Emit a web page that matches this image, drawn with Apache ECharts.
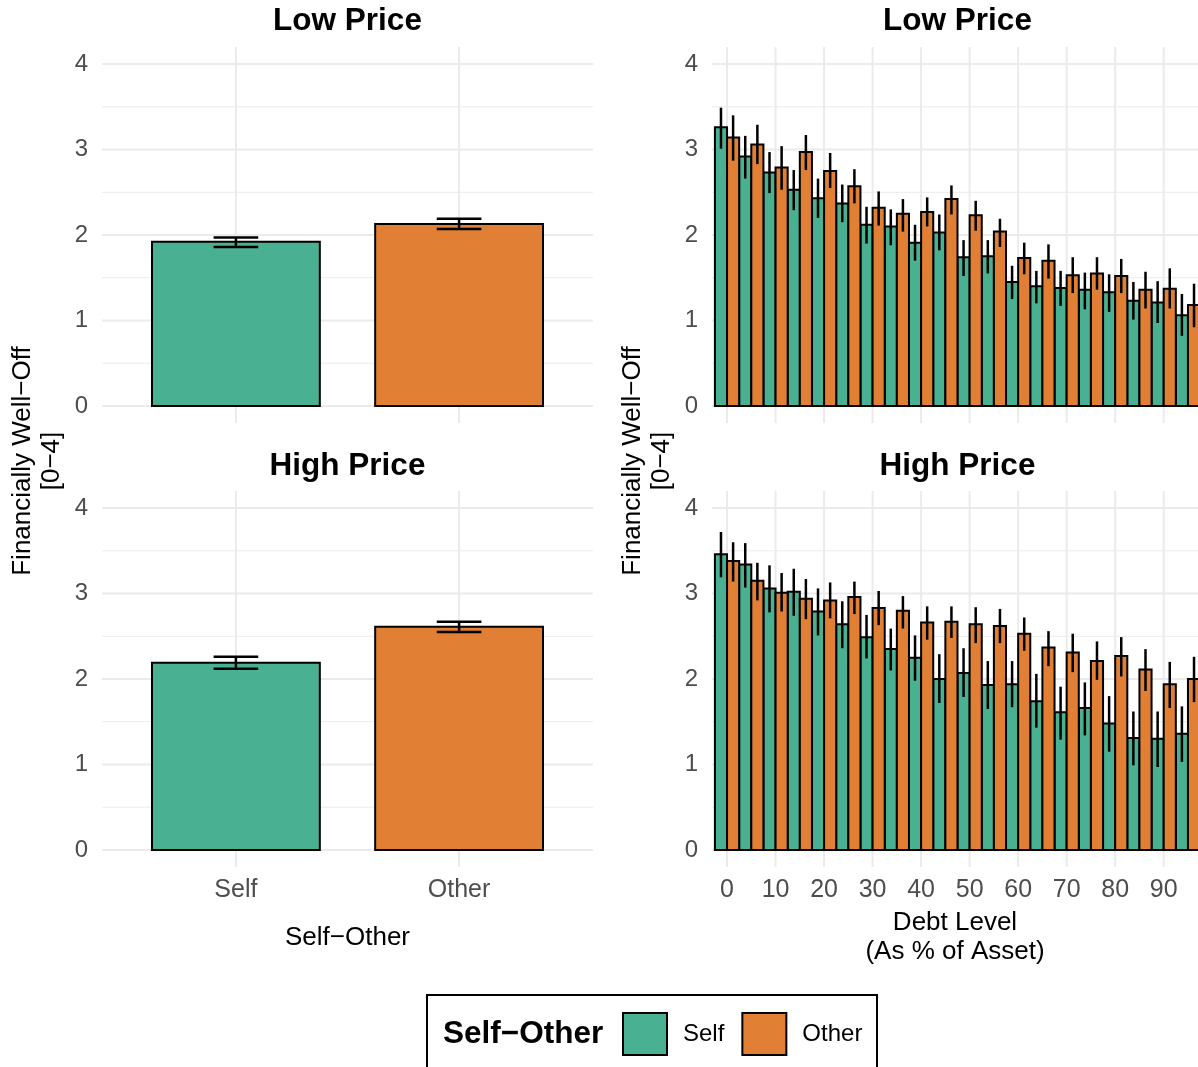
<!DOCTYPE html>
<html>
<head>
<meta charset="utf-8">
<script src="https://cdn.jsdelivr.net/npm/echarts@6/dist/echarts.min.js"></script>
<style>
  html, body { margin: 0; padding: 0; background: #ffffff; }
  #chart { width: 1198px; height: 1067px; }
</style>
</head>
<body>
<div id="chart"></div>
<script>
// ---------------- DATA ----------------
const leftCategories = ['Self', 'Other'];
const leftCategoryPos = [1, 2];

const lowPriceMean = [1.92, 2.13];
const lowPriceLo   = [1.86, 2.07];
const lowPriceHi   = [1.97, 2.19];

const highPriceMean = [2.19, 2.61];
const highPriceLo   = [2.12, 2.55];
const highPriceHi   = [2.26, 2.67];

const debtLevels = [0, 5, 10, 15, 20, 25, 30, 35, 40, 45, 50, 55, 60, 65, 70, 75, 80, 85, 90, 95];

const lowSelfMean = [3.26, 2.92, 2.73, 2.53, 2.43, 2.37, 2.12, 2.10, 1.91, 2.03, 1.74, 1.75, 1.45, 1.40, 1.38, 1.36, 1.33, 1.23, 1.21, 1.06];
const lowSelfLo   = [3.01, 2.66, 2.49, 2.29, 2.20, 2.15, 1.90, 1.88, 1.70, 1.82, 1.52, 1.55, 1.25, 1.20, 1.17, 1.13, 1.10, 1.01, 0.97, 0.82];
const lowSelfHi   = [3.49, 3.16, 2.97, 2.76, 2.66, 2.59, 2.33, 2.30, 2.12, 2.24, 1.94, 1.94, 1.64, 1.58, 1.58, 1.56, 1.54, 1.45, 1.46, 1.31];

const lowOtherMean = [3.14, 3.06, 2.79, 2.97, 2.75, 2.57, 2.32, 2.25, 2.27, 2.42, 2.23, 2.04, 1.73, 1.70, 1.53, 1.55, 1.52, 1.36, 1.37, 1.18];
const lowOtherLo   = [2.87, 2.83, 2.53, 2.76, 2.55, 2.37, 2.11, 2.04, 2.10, 2.24, 2.05, 1.86, 1.54, 1.49, 1.32, 1.36, 1.32, 1.14, 1.14, 0.92];
const lowOtherHi   = [3.40, 3.29, 3.04, 3.17, 2.96, 2.77, 2.51, 2.42, 2.44, 2.58, 2.40, 2.19, 1.91, 1.89, 1.74, 1.74, 1.72, 1.57, 1.61, 1.43];

const highSelfMean = [3.46, 3.34, 3.06, 3.02, 2.79, 2.64, 2.49, 2.35, 2.25, 2.00, 2.07, 1.93, 1.94, 1.74, 1.61, 1.66, 1.48, 1.31, 1.30, 1.36];
const highSelfLo   = [3.19, 3.07, 2.78, 2.74, 2.51, 2.36, 2.24, 2.10, 1.98, 1.72, 1.79, 1.65, 1.67, 1.43, 1.29, 1.34, 1.15, 0.99, 0.97, 1.03];
const highSelfHi   = [3.72, 3.59, 3.33, 3.29, 3.06, 2.91, 2.75, 2.59, 2.51, 2.29, 2.36, 2.21, 2.21, 2.06, 1.91, 1.96, 1.80, 1.62, 1.62, 1.68];

const highOtherMean = [3.38, 3.15, 3.01, 2.94, 2.92, 2.96, 2.83, 2.80, 2.66, 2.67, 2.64, 2.62, 2.53, 2.37, 2.31, 2.21, 2.27, 2.11, 1.94, 2.00];
const highOtherLo   = [3.14, 2.92, 2.79, 2.70, 2.71, 2.76, 2.63, 2.59, 2.46, 2.48, 2.42, 2.42, 2.33, 2.15, 2.08, 1.99, 2.03, 1.86, 1.66, 1.73];
const highOtherHi   = [3.60, 3.36, 3.24, 3.17, 3.13, 3.14, 3.03, 2.97, 2.85, 2.85, 2.84, 2.82, 2.72, 2.56, 2.53, 2.44, 2.49, 2.35, 2.20, 2.26];

const yTicks = [0, 1, 2, 3, 4];
const yMinorTicks = [0.5, 1.5, 2.5, 3.5];
const debtTicks = [0, 10, 20, 30, 40, 50, 60, 70, 80, 90];

// ---------------- STYLE ----------------
const FONT = '"Liberation Sans", Arial, Helvetica, sans-serif';
const SELF_COLOR = '#49B192';
const OTHER_COLOR = '#E17F35';
const GRID_COLOR = '#EBEBEB';
const TICK_COLOR = '#4D4D4D';

const Y_MIN = -0.2, Y_MAX = 4.2;
const LX_MIN = 0.4, LX_MAX = 2.6;
const RX_MIN = -3.1, RX_MAX = 97.07;

const grids = [
  { left: 102, top: 47, width: 491, height: 376 },   // 0 left top
  { left: 712, top: 47, width: 486, height: 376 },   // 1 right top
  { left: 102, top: 491, width: 491, height: 376 },  // 2 left bottom
  { left: 712, top: 491, width: 486, height: 376 }   // 3 right bottom
];

function yAxisDef(gi) {
  return {
    type: 'value', gridIndex: gi, min: Y_MIN, max: Y_MAX,
    axisLine: { show: false }, axisTick: { show: false }, splitLine: { show: false },
    axisLabel: {
      customValues: yTicks, fontSize: 24, color: TICK_COLOR, fontFamily: FONT, margin: 14
    }
  };
}

function xAxisDef(gi, isLeft, showLabels) {
  const ax = {
    type: 'value', gridIndex: gi,
    min: isLeft ? LX_MIN : RX_MIN, max: isLeft ? LX_MAX : RX_MAX,
    axisLine: { show: false }, axisTick: { show: false }, splitLine: { show: false },
    axisLabel: { show: false }
  };
  if (showLabels) {
    ax.axisLabel = {
      show: true,
      customValues: isLeft ? leftCategoryPos : debtTicks,
      formatter: isLeft ? (v) => leftCategories[Math.round(v) - 1] : (v) => String(v),
      fontSize: 25, color: TICK_COLOR, fontFamily: FONT, margin: 11
    };
  }
  return ax;
}

// gridline series
function gridLineSeries(gi, isLeft) {
  const xmin = isLeft ? LX_MIN : RX_MIN, xmax = isLeft ? LX_MAX : RX_MAX;
  const vTicks = isLeft ? leftCategoryPos : debtTicks;
  const items = [];
  yMinorTicks.forEach(v => items.push(['h', v, 1]));
  yTicks.forEach(v => items.push(['h', v, 2]));
  vTicks.forEach(v => items.push(['v', v, 2]));
  return {
    type: 'custom', xAxisIndex: gi, yAxisIndex: gi, silent: true, z: 0,
    data: items,
    renderItem: function (params, api) {
      const kind = items[params.dataIndex][0];
      const val = items[params.dataIndex][1];
      const lw = items[params.dataIndex][2];
      let a, b;
      if (kind === 'h') { a = api.coord([xmin, val]); b = api.coord([xmax, val]); }
      else { a = api.coord([val, Y_MIN]); b = api.coord([val, Y_MAX]); }
      return {
        type: 'line',
        shape: { x1: a[0], y1: a[1], x2: b[0], y2: b[1] },
        style: { stroke: GRID_COLOR, lineWidth: lw }
      };
    }
  };
}

// bar + error bar custom series
function barSeries(name, color, gi, xs, means, los, his, halfW, offset, capHalf, errW) {
  const data = xs.map((x, i) => [x, means[i], los[i], his[i]]);
  return {
    name: name, type: 'custom', xAxisIndex: gi, yAxisIndex: gi, z: 2, clip: false,
    itemStyle: { color: color, borderColor: '#000', borderWidth: 2 },
    encode: { x: 0, y: [1, 2, 3] },
    data: data,
    renderItem: function (params, api) {
      const x = api.value(0), m = api.value(1), lo = api.value(2), hi = api.value(3);
      const xc = x + offset;
      const p0 = api.coord([xc - halfW, m]);
      const p1 = api.coord([xc + halfW, 0]);
      const children = [{
        type: 'rect',
        shape: { x: p0[0], y: p0[1], width: p1[0] - p0[0], height: p1[1] - p0[1] },
        style: { fill: color, stroke: '#000', lineWidth: 2 }
      }];
      const t = api.coord([xc, hi]), bt = api.coord([xc, lo]);
      children.push({
        type: 'line', shape: { x1: t[0], y1: t[1], x2: bt[0], y2: bt[1] },
        style: { stroke: '#000', lineWidth: errW }
      });
      if (capHalf > 0) {
        [hi, lo].forEach(v => {
          const l = api.coord([xc - capHalf, v]), r = api.coord([xc + capHalf, v]);
          children.push({
            type: 'line', shape: { x1: l[0], y1: l[1], x2: r[0], y2: r[1] },
            style: { stroke: '#000', lineWidth: errW }
          });
        });
      }
      return { type: 'group', children: children };
    }
  };
}

const series = [
  gridLineSeries(0, true), gridLineSeries(1, false), gridLineSeries(2, true), gridLineSeries(3, false),
  // left top (Low Price)
  barSeries('Self', SELF_COLOR, 0, [leftCategoryPos[0]], [lowPriceMean[0]], [lowPriceLo[0]], [lowPriceHi[0]], 0.376, 0, 0.1, 2.5),
  barSeries('Other', OTHER_COLOR, 0, [leftCategoryPos[1]], [lowPriceMean[1]], [lowPriceLo[1]], [lowPriceHi[1]], 0.376, 0, 0.1, 2.5),
  // left bottom (High Price)
  barSeries('Self', SELF_COLOR, 2, [leftCategoryPos[0]], [highPriceMean[0]], [highPriceLo[0]], [highPriceHi[0]], 0.376, 0, 0.1, 2.5),
  barSeries('Other', OTHER_COLOR, 2, [leftCategoryPos[1]], [highPriceMean[1]], [highPriceLo[1]], [highPriceHi[1]], 0.376, 0, 0.1, 2.5),
  // right top (Low Price)
  barSeries('Self', SELF_COLOR, 1, debtLevels, lowSelfMean, lowSelfLo, lowSelfHi, 1.25, -1.25, 0, 2.5),
  barSeries('Other', OTHER_COLOR, 1, debtLevels, lowOtherMean, lowOtherLo, lowOtherHi, 1.25, 1.25, 0, 2.5),
  // right bottom (High Price)
  barSeries('Self', SELF_COLOR, 3, debtLevels, highSelfMean, highSelfLo, highSelfHi, 1.25, -1.25, 0, 2.5),
  barSeries('Other', OTHER_COLOR, 3, debtLevels, highOtherMean, highOtherLo, highOtherHi, 1.25, 1.25, 0, 2.5)
];

const xAxes = [xAxisDef(0, true, false), xAxisDef(1, false, false), xAxisDef(2, true, true), xAxisDef(3, false, true)];
xAxes[2].name = 'Self\u2212Other';
xAxes[2].nameLocation = 'middle';
xAxes[2].nameGap = 57;
xAxes[2].nameTextStyle = { fontSize: 26, color: '#000', fontFamily: FONT, lineHeight: 28 };
xAxes[3].name = 'Debt Level\n(As % of Asset)';
xAxes[3].nameLocation = 'middle';
xAxes[3].nameGap = 41;
xAxes[3].nameTextStyle = { fontSize: 26, color: '#000', fontFamily: FONT, lineHeight: 29 };

function titleText(txt, x, y) {
  return {
    type: 'text', x: x, y: y, silent: true,
    style: { text: txt, font: 'bold 31.5px ' + FONT, fill: '#000', align: 'center', verticalAlign: 'middle' }
  };
}
function yTitle(x) {
  return {
    type: 'text', x: x, y: 461, rotation: Math.PI / 2, silent: true,
    style: {
      text: 'Financially Well\u2212Off\n[0\u22124]', font: '26px ' + FONT, fill: '#000',
      align: 'center', verticalAlign: 'middle', lineHeight: 29
    }
  };
}

const option = {
  animation: false,
  backgroundColor: '#ffffff',
  grid: grids,
  xAxis: xAxes,
  yAxis: [yAxisDef(0), yAxisDef(1), yAxisDef(2), yAxisDef(3)],
  legend: {
    left: 622, top: 1012, orient: 'horizontal', padding: 0,
    itemWidth: 44, itemHeight: 42, itemGap: 17,
    selectedMode: false,
    textStyle: { fontSize: 24, color: '#000', fontFamily: FONT, padding: [0, 0, 0, 11] },
    data: [
      { name: 'Self', icon: 'rect', itemStyle: { color: SELF_COLOR, borderColor: '#000', borderWidth: 2 } },
      { name: 'Other', icon: 'rect', itemStyle: { color: OTHER_COLOR, borderColor: '#000', borderWidth: 2 } }
    ]
  },
  graphic: [
    titleText('Low Price', 347.5, 21),
    titleText('Low Price', 957.5, 21),
    titleText('High Price', 347.5, 466),
    titleText('High Price', 957.5, 466),
    yTitle(37),
    yTitle(647),
    {
      type: 'rect', shape: { x: 427, y: 995, width: 450, height: 100 }, silent: true,
      style: { fill: 'none', stroke: '#000', lineWidth: 2 }
    },
    {
      type: 'text', x: 443, y: 1034, silent: true,
      style: { text: 'Self\u2212Other', font: 'bold 31.5px ' + FONT, fill: '#000', align: 'left', verticalAlign: 'middle' }
    }
  ],
  series: series
};

const chart = echarts.init(document.getElementById('chart'), null, { renderer: 'canvas' });
chart.setOption(option);
</script>
</body>
</html>
